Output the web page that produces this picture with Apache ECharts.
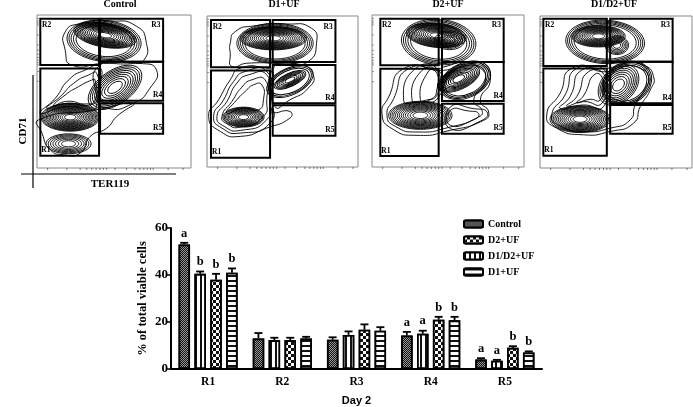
<!DOCTYPE html>
<html><head><meta charset="utf-8">
<style>html,body{margin:0;padding:0;background:#fff}#c{width:693px;height:407px}</style>
<script src="https://cdn.jsdelivr.net/npm/echarts@6/dist/echarts.min.js"></script>
</head><body><div id="c"></div>
<script>
// ---- bar chart values
const categories = ['R1','R2','R3','R4','R5'];
const controlValues = [53, 13, 12.5, 14.3, 4];
const d1d2Values    = [40.5, 12.3, 14.5, 15, 3.5];
const d2Values      = [38, 12.3, 16.7, 21, 9];
const d1Values      = [41, 13, 16.3, 20.7, 7];
const controlErr = [0.7, 2.3, 1, 1.5, 0.6];
const d1d2Err    = [1, 1, 1.5, 1.3, 0.4];
const d2Err      = [2.5, 1, 2.3, 1.2, 0.7];
const d1Err      = [1.8, 0.7, 1.5, 1.5, 0.5];
const controlLetters = ['a','','','a','a'];
const d1d2Letters    = ['b','','','a','a'];
const d2Letters      = ['b','','','b','b'];
const d1Letters      = ['b','','','b','b'];
const legendOrder = ['Control','D2+UF','D1/D2+UF','D1+UF'];

// ---- flow cytometry panels, in read-off scan units
const panelTitles = ['Control','D1+UF','D2+UF','D1/D2+UF'];
const panelRangeX = [[110,574],[620,1075],[65,521],[570,1025]];
const panelRangeY = [[44,505],[48,502],[44,500],[47,505]];
const gateNames = ['R1','R2','R3','R4','R5'];
const gatesControl = [[120,205,297,468],[120,55,297,195],[300,55,490,185],[300,185,490,302],[300,310,490,402]];
const gatesD1 = [[632,212,810,474],[632,60,810,202],[818,60,1007,186],[818,195,1007,310],[818,316,1007,408]];
const gatesD2 = [[90,205,265,467],[90,55,265,195],[275,55,460,185],[275,185,460,302],[275,310,460,400]];
const gatesD1D2 = [[580,205,770,468],[580,55,770,198],[780,55,967,185],[780,185,967,310],[780,315,967,402]];

const outlinesControl = [
 [[195,95],[240,70],[330,62],[410,78],[440,130],[432,180],[400,190],[310,190],[215,195],[195,150]],
 [[300,195],[420,190],[470,210],[450,265],[400,310],[320,325],[290,290]],
 [[120,340],[165,295],[205,240],[255,210],[298,200],[300,260],[290,310],[280,330],[200,320]],
 [[140,325],[180,290],[220,250],[265,225],[290,220],[292,290],[270,315],[200,310]],
 [[160,318],[195,285],[235,260],[275,240],[285,240],[285,300],[260,312],[200,304]],
 [[290,330],[400,310],[350,350],[320,385],[270,410],[240,460],[190,465],[150,450],[125,400],[115,360]]
];
const peaksControl = [
 [210,352,88,42,0,16,0.08],[205,432,68,30,0,7,0.1],[345,262,92,50,35,9,0.1],
 [312,122,112,62,-6,5,0.65],[315,105,95,36,-10,14,0.08]
];
const outlinesD1 = [
 [[690,130],[705,95],[760,78],[860,72],[935,85],[950,130],[925,185],[870,190],[740,190],[695,200],[690,160]],
 [[820,205],[900,195],[940,225],[925,265],[870,300],[825,320]],
 [[625,350],[655,300],[690,240],[720,205],[800,205],[820,220],[815,330],[870,335],[870,355],[800,385],[720,410],[660,395]],
 [[640,350],[670,300],[700,245],[735,215],[800,215],[815,300],[810,370],[720,400],[665,385]],
 [[650,350],[680,305],[710,250],[745,225],[800,225],[810,300],[800,360],[720,392],[672,380]],
 [[665,350],[695,305],[725,262],[755,240],[795,240],[800,300],[790,350],[720,382],[680,372]],
 [[680,340],[710,300],[735,275],[760,255],[785,255],[790,300],[775,330],[730,325]]
];
const peaksD1 = [
 [825,130,115,60,0,5,0.7],[820,115,100,35,0,14,0.1],[730,352,62,30,0,11,0.1],
 [870,240,52,20,25,7,0.1],[870,245,75,40,25,3,0.7]
];
const outlinesD2 = [
 [[160,205],[115,290],[95,340],[125,385],[200,405],[300,390],[400,360],[415,335],[390,300],[420,240],[400,195],[350,185],[280,200],[270,205]],
 [[175,205],[130,295],[110,345],[135,378],[200,395],[300,380],[385,350],[395,330],[370,300],[405,240],[385,200],[340,192],[280,210]],
 [[195,205],[160,300],[200,305],[265,290],[265,210]],
 [[215,210],[185,298],[225,300],[262,280],[262,215]],
 [[235,212],[210,298],[245,295],[260,265],[260,220]],
 [[300,320],[370,325],[410,335],[395,360],[300,385]],
 [[300,330],[355,332],[385,340],[370,358],[300,375]]
];
const peaksD2 = [
 [265,125,112,68,-5,5,0.65],[258,105,90,36,-6,14,0.08],[298,120,45,28,0,5,0.1],
 [210,345,95,42,0,13,0.1],[325,235,68,32,25,9,0.1],[345,240,80,52,25,4,0.7]
];
const outlinesD1D2 = [
 [[665,205],[630,280],[590,345],[620,385],[700,405],[780,395],[850,370],[870,320],[900,270],[910,230],[880,195],[820,190],[770,205]],
 [[680,205],[645,285],[605,345],[630,378],[700,395],[780,385],[840,360],[855,315],[885,265],[895,230],[870,205],[820,198],[770,215]],
 [[695,210],[660,290],[630,325],[700,315],[760,320],[770,220]],
 [[715,215],[680,290],[650,318],[700,305],[755,310],[765,230]],
 [[735,222],[700,288],[680,308],[720,298],[750,300],[760,245]]
];
const peaksD1D2 = [
 [765,125,118,65,-3,5,0.7],[745,108,80,32,0,13,0.1],[800,135,35,28,0,6,0.1],
 [690,358,90,40,0,13,0.1],[805,255,70,50,45,8,0.1],[830,250,78,62,30,4,0.7]
];
const bottomTickOffsets = [32,90,130,150,165,178,190,200,210,235,270,295,310,322,332,342,350,395,440];
const leftTickOffsets = [10,18,24,30,60,90,106,118,128,136,144,150,170,200];

const gatesAll = [gatesControl, gatesD1, gatesD2, gatesD1D2];
const outlinesAll = [outlinesControl, outlinesD1, outlinesD2, outlinesD1D2];
const peaksAll = [peaksControl, peaksD1, peaksD2, peaksD1D2];

// ---- layout (not data)
const panelBoxes = [[37,15,154,153],[207,16,151,151],[372,15,152,152],[540,16,152,152]];
const titleCenters = [120,284,448,614];
const serif = '"Liberation Serif","Times New Roman",serif';
const gateLabelPos = {
  R1:(g)=>[g[0]+3,g[3]-4,'left','bottom'], R2:(g)=>[g[0]+5,g[1]+8,'left','top'],
  R3:(g)=>[g[2]-8,g[1]+8,'right','top'],  R4:(g)=>[g[2]-3,g[3]-4,'right','bottom'],
  R5:(g)=>[g[2]-3,g[3]-4,'right','bottom']
};

const grid=[], xAxis=[], yAxis=[], series=[];
panelBoxes.forEach((b,i)=>{
  grid.push({left:b[0],top:b[1],width:b[2],height:b[3],show:true,borderColor:'#888',borderWidth:1,backgroundColor:'#fff'});
  xAxis.push({gridIndex:i,type:'value',min:panelRangeX[i][0],max:panelRangeX[i][1],show:false});
  yAxis.push({gridIndex:i,type:'value',min:panelRangeY[i][0],max:panelRangeY[i][1],inverse:true,show:false});
  series.push({
    type:'custom',xAxisIndex:i,yAxisIndex:i,silent:true,clip:false,z:3,
    data:[[panelRangeX[i][0],panelRangeY[i][0]]],
    renderItem:(p,api)=>{
      const children=[];
      const pt=(a)=>api.coord(a);
      const unit=Math.abs(api.size([1,0])[0]);
      outlinesAll[i].forEach(o=>children.push({type:'polygon',shape:{points:o.map(pt),smooth:0.6},
        style:{fill:'none',stroke:'#000',lineWidth:0.9}}));
      peaksAll[i].forEach(k=>{
        const c=pt([k[0],k[1]]), minF=k[6];
        for(let r=0;r<k[5];r++){
          const f=minF+(1-minF)*Math.pow(1-r/k[5],0.75);
          children.push({type:'ellipse',x:c[0],y:c[1],rotation:k[4]*Math.PI/180,
            shape:{cx:0,cy:0,rx:k[2]*unit*f,ry:k[3]*unit*f},
            style:{fill:'none',stroke:'#000',lineWidth:0.9}});
        }
      });
      gatesAll[i].forEach((g,j)=>{
        const a=pt([g[0],g[1]]), z=pt([g[2],g[3]]);
        children.push({type:'rect',shape:{x:a[0],y:a[1],width:z[0]-a[0],height:z[1]-a[1]},
          style:{fill:'none',stroke:'#000',lineWidth:2}});
        const l=gateLabelPos[gateNames[j]](g), q=pt([l[0],l[1]]);
        children.push({type:'text',x:q[0],y:q[1],style:{text:gateNames[j],fill:'#000',
          font:'bold 7.5px '+serif,textAlign:l[2],textVerticalAlign:l[3]}});
      });
      bottomTickOffsets.forEach(t=>{
        const q=pt([panelRangeX[i][0]+t,panelRangeY[i][1]]);
        children.push({type:'line',shape:{x1:q[0],y1:q[1],x2:q[0],y2:q[1]+2},style:{stroke:'#444',lineWidth:0.7}});
      });
      leftTickOffsets.forEach(t=>{
        const q=pt([panelRangeX[i][0],panelRangeY[i][0]+t]);
        children.push({type:'line',shape:{x1:q[0],y1:q[1],x2:q[0]+2,y2:q[1]},style:{stroke:'#555',lineWidth:0.6}});
      });
      return {type:'group',children};
    }
  });
});

// bar grid
const B=4;
grid.push({left:171,top:228,width:371,height:142});
xAxis.push({gridIndex:B,type:'category',data:categories,
  axisLine:{lineStyle:{color:'#000',width:2}},
  axisTick:{alignWithLabel:true,length:4,lineStyle:{color:'#000',width:1.5}},
  axisLabel:{color:'#000',fontFamily:serif,fontWeight:'bold',fontSize:11.5,margin:7},
  name:'Day 2',nameLocation:'middle',nameGap:26,
  nameTextStyle:{fontFamily:'"Liberation Sans",Arial,sans-serif',fontWeight:'bold',fontSize:11,color:'#000'}});
yAxis.push({gridIndex:B,type:'value',min:0,max:60,interval:20,
  splitLine:{show:false},
  axisLine:{show:true,lineStyle:{color:'#000',width:2}},
  axisTick:{show:true,length:4,lineStyle:{color:'#000',width:1.5}},
  axisLabel:{color:'#000',fontFamily:serif,fontWeight:'bold',fontSize:13,margin:3},
  name:'% of total viable cells',nameLocation:'middle',nameGap:22,nameMoveOverlap:false,
  nameTextStyle:{fontFamily:serif,fontWeight:'bold',fontSize:12.5,color:'#000'}});

const barDefs=[
 {name:'Control',vals:controlValues,errs:controlErr,letters:controlLetters,
  decal:{symbol:'rect',symbolSize:1,color:'#111',backgroundColor:'#999',dashArrayX:[[1,1],[0,1,1,0]],dashArrayY:[1,0]}},
 {name:'D1/D2+UF',vals:d1d2Values,errs:d1d2Err,letters:d1d2Letters,
  decal:{symbol:'rect',symbolSize:1,color:'#111',backgroundColor:'#fff',dashArrayX:[2,2.5],dashArrayY:[1,0]}},
 {name:'D2+UF',vals:d2Values,errs:d2Err,letters:d2Letters,
  decal:{symbol:'rect',symbolSize:1,color:'#111',backgroundColor:'#fff',dashArrayX:[[3,3],[0,3,3,0]],dashArrayY:[3,0]}},
 {name:'D1+UF',vals:d1Values,errs:d1Err,letters:d1Letters,
  decal:{symbol:'rect',symbolSize:1,color:'#111',backgroundColor:'#fff',dashArrayX:[1,0],dashArrayY:[2,2.5]}}
];
barDefs.forEach(d=>{
  series.push({type:'bar',name:d.name,xAxisIndex:B,yAxisIndex:B,data:d.vals,barWidth:11.5,barGap:'38%',z:4,
    itemStyle:{color:'#fff',borderColor:'#000',borderWidth:1.8,decal:d.decal}});
});
barDefs.forEach((d,s)=>{
  series.push({type:'custom',xAxisIndex:B,yAxisIndex:B,silent:true,z:5,clip:false,
    data:d.vals.map((v,c)=>[c,v,d.errs[c]]),
    encode:{x:0,y:1},
    renderItem:(p,api)=>{
      const c=api.value(0),v=api.value(1),e=api.value(2),l=d.letters[c];
      const band=api.size([1,0])[0];
      const x=api.coord([c,v])[0]+(s-1.5)*band*0.2145;
      const y0=api.coord([c,v])[1], y1=api.coord([c,v+e])[1];
      const kids=[
        {type:'line',shape:{x1:x,y1:y0,x2:x,y2:y1},style:{stroke:'#000',lineWidth:1.8}},
        {type:'line',shape:{x1:x-4,y1:y1,x2:x+4,y2:y1},style:{stroke:'#000',lineWidth:1.8}}
      ];
      if(l) kids.push({type:'text',x:x,y:y1-3,style:{text:l,fill:'#000',font:'bold 12.5px '+serif,textAlign:'center',textVerticalAlign:'bottom'}});
      return {type:'group',children:kids};
    }});
});

const chart=echarts.init(document.getElementById('c'),null,{renderer:'canvas'});
chart.setOption({
  animation:false,backgroundColor:'#fff',
  grid,xAxis,yAxis,series,
  legend:{data:legendOrder,left:463,top:219,padding:0,orient:'vertical',itemWidth:19,itemHeight:7,itemGap:6,
    selectedMode:false,
    textStyle:{fontFamily:serif,fontWeight:'bold',fontSize:10,color:'#000'}},
  graphic:[
    ...panelTitles.map((t,i)=>({type:'text',x:titleCenters[i],y:4,
      style:{text:t,fill:'#000',font:'bold 10px '+serif,textAlign:'center',textVerticalAlign:'middle'}})),
    {type:'text',x:110,y:184,style:{text:'TER119',fill:'#000',font:'bold 11px '+serif,textAlign:'center',textVerticalAlign:'middle'}},
    {type:'text',x:23,y:131,rotation:Math.PI/2,style:{text:'CD71',fill:'#000',font:'bold 11px '+serif,textAlign:'center',textVerticalAlign:'middle'}},
    {type:'line',shape:{x1:33,y1:75,x2:33,y2:188},style:{stroke:'#000',lineWidth:1.2}},
    {type:'line',shape:{x1:21,y1:174,x2:176,y2:174},style:{stroke:'#000',lineWidth:1.2}}
  ]
});
</script></body></html>
